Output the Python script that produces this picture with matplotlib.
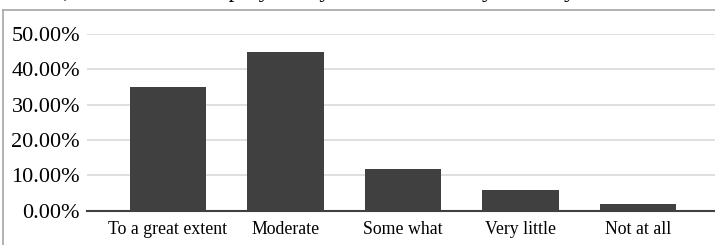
import matplotlib
matplotlib.use("Agg")
import matplotlib.pyplot as plt
from matplotlib.lines import Line2D
from matplotlib.ticker import FuncFormatter

categories = ["To a great extent", "Moderate", "Some what", "Very little", "Not at all"]
values = [35.1, 44.8, 11.8, 5.9, 1.9]
yticks = [0, 10, 20, 30, 40, 50]

W, H = 715, 245
fig = plt.figure(figsize=(W / 100, H / 100), dpi=100)
plt.rcParams['font.family'] = ['Liberation Serif', 'DejaVu Serif']

left, right = 87 / W, 1.0
bottom, top = 1 - 210.7 / H, 1 - 34 / H
ax = fig.add_axes([left, bottom, right - left, top - bottom])

x = list(range(len(categories)))
ax.bar(x, values, width=0.65, color="#404040", zorder=3)
ax.set_ylim(0, 50)
ax.set_xlim(-0.687, 4.655)
ax.set_yticks(yticks)
ax.yaxis.set_major_formatter(FuncFormatter(lambda v, p: f"{v:.2f}%"))
ax.set_xticks(x)
ax.set_xticklabels(categories)
ax.tick_params(axis='y', length=0, pad=5, labelsize=16, colors="#000000")
ax.tick_params(axis='x', length=0, pad=7.5, labelsize=12.8)
ax.grid(axis='y', color="#d9d9d9", linewidth=1.2, zorder=0)
for s in ["top", "right", "left"]:
    ax.spines[s].set_visible(False)
ax.spines["bottom"].set_color("#404040")
ax.spines["bottom"].set_linewidth(1.5)
ax.spines["bottom"].set_zorder(4)

# outer chart border (top and left visible)
fig.add_artist(Line2D([2.5 / W, 2.5 / W], [0, 1 - 10.5 / H], transform=fig.transFigure,
                      color="#a6a6a6", linewidth=1.2))
fig.add_artist(Line2D([2.5 / W, 1], [1 - 10.5 / H, 1 - 10.5 / H], transform=fig.transFigure,
                      color="#a6a6a6", linewidth=1.2))

# clipped line of page text above the chart
fig.text(24 / W, 1 + 3 / H, "ities, MSMEs and employability in SMEs make you ready for the world of work?",
         fontsize=17, va="baseline", ha="left", color="#000000")

fig.savefig("out.png", dpi=100)
